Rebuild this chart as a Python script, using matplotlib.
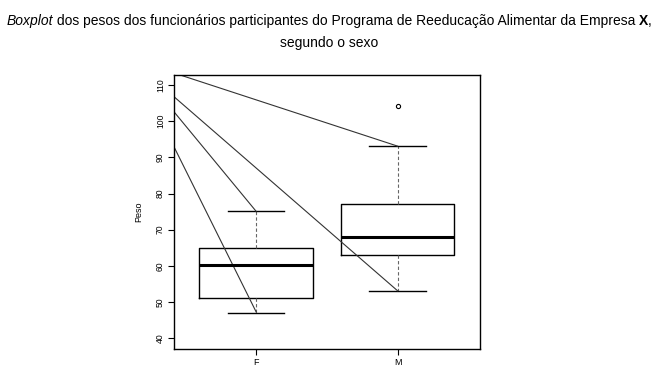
import matplotlib
matplotlib.use("Agg")
import matplotlib.pyplot as plt

plt.rcParams['font.family'] = ['Liberation Sans', 'DejaVu Sans']

categories = ["F", "M"]
q1 = [51.1, 63.0]
medians = [60.1, 68.1]
q3 = [64.8, 77.1]
whisker_low = [46.9, 53.1]
whisker_high = [75.1, 93.1]
outliers = [[], [104.1]]
yticks = [40, 50, 60, 70, 80, 90, 100, 110]
# stray annotation lines: common origin (outside the axes) to whisker ends
line_origin = (0.11, 117.3)
line_targets = [(2, 93.1), (2, 53.1), (1, 75.1), (1, 47.3)]

fig = plt.figure(figsize=(6.58, 3.76), dpi=100)
ax = fig.add_axes([0.2644, 0.0718, 0.729 - 0.2644, 0.8013 - 0.0718])

stats = []
for i, c in enumerate(categories):
    stats.append(dict(label=c, q1=q1[i], med=medians[i], q3=q3[i],
                      whislo=whisker_low[i], whishi=whisker_high[i],
                      fliers=outliers[i]))

ax.bxp(stats, positions=[1, 2], widths=0.8, showfliers=True,
       boxprops=dict(color='black', linewidth=1.0),
       medianprops=dict(color='black', linewidth=2.2),
       whiskerprops=dict(color='#666666', linewidth=0.8, linestyle=(0, (3, 2))),
       capprops=dict(color='black', linewidth=1.0),
       capwidths=0.4,
       flierprops=dict(marker='o', markersize=3, markerfacecolor='none',
                       markeredgecolor='black', markeredgewidth=0.8))

for tx, ty in line_targets:
    ax.plot([line_origin[0], tx], [line_origin[1], ty], color='#333333',
            linewidth=0.8, clip_on=True)

ax.set_xlim(0.42, 2.58)
ax.set_ylim(37.0, 112.85)
ax.set_xticks([1, 2])
ax.set_xticklabels(categories, fontsize=6.5)
ax.set_yticks(yticks)
ax.set_yticklabels([str(v) for v in yticks], fontsize=6.2, rotation=90, va='center')
ax.tick_params(axis='both', length=4.5, width=0.8, pad=2)
for s in ax.spines.values():
    s.set_linewidth(1.0)
ax.set_ylabel("Peso", fontsize=6.5, labelpad=9)

# Title line 1 with mixed styles
t_parts = [("Boxplot", dict(style='italic')),
           (" dos pesos dos funcionários participantes do Programa de Reeducação Alimentar da Empresa ", dict()),
           ("X", dict(weight='bold')),
           (",", dict())]
renderer = fig.canvas.get_renderer()
texts = []
for s, kw in t_parts:
    t = fig.text(0, 1 - 21 / 376, s, fontsize=10, ha='left', va='center', **kw)
    texts.append(t)
widths = [t.get_window_extent(renderer).width for t in texts]
total = sum(widths)
start = (658 - total) / 2
for t, w in zip(texts, widths):
    t.set_x(start / 658)
    start += w
fig.text(0.5, 1 - 43 / 376, "segundo o sexo", fontsize=10, ha='center', va='center')

fig.savefig("out.png", dpi=100)
